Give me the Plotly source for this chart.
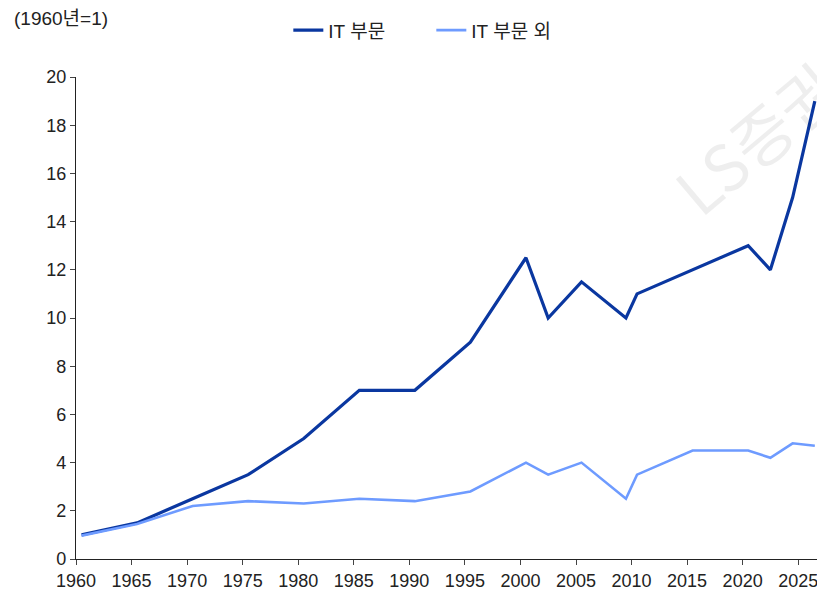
import plotly.graph_objects as go

years = [1960, 1965, 1970, 1975, 1980, 1985, 1990, 1995, 2000, 2002, 2005, 2009, 2010, 2015, 2020, 2022, 2024, 2026]
it_sector = [1.0, 1.5, 2.5, 3.5, 5.0, 7.0, 7.0, 9.0, 12.5, 10.0, 11.5, 10.0, 11.0, 12.0, 13.0, 12.0, 15.0, 19.0]
non_it_sector = [0.97, 1.45, 2.2, 2.4, 2.3, 2.5, 2.4, 2.8, 4.0, 3.5, 4.0, 2.5, 3.5, 4.5, 4.5, 4.2, 4.8, 4.7]
series_names = ["IT 부문", "IT 부문 외"]
y_ticks = [0, 2, 4, 6, 8, 10, 12, 14, 16, 18, 20]

# annual observations plotted at mid-year
dates = [f"{y}-07-01" for y in years]

NARROW = "Liberation Sans Narrow, Liberation Sans, Arial, Noto Sans CJK KR, sans-serif"
KFONT = "Liberation Sans, Arial, Noto Sans CJK KR, sans-serif"

fig = go.Figure()
fig.add_trace(go.Scatter(x=dates, y=it_sector, mode="lines", name=series_names[0],
                         line=dict(color="#0A37A0", width=3.2)))
fig.add_trace(go.Scatter(x=dates, y=non_it_sector, mode="lines", name=series_names[1],
                         line=dict(color="#6E9BFF", width=2.6)))

# page body has an 8px margin: figure is sized/offset so the plot lands where the reference has it
fig.update_layout(
    width=817, height=585,
    margin=dict(l=68, r=4, t=69, b=34, autoexpand=False),
    paper_bgcolor="white", plot_bgcolor="white",
    showlegend=True,
    legend=dict(orientation="h", x=0.285, xanchor="left", y=1.097, yanchor="middle",
                font=dict(family=KFONT, size=19, color="#222"),
                bgcolor="rgba(0,0,0,0)", entrywidth=98, itemwidth=30),
    xaxis=dict(type="date", range=["1960-01-01", "2027-01-20"],
               tick0="1960-01-01", dtick="M60", tickformat="%Y",
               showgrid=False, zeroline=False,
               showline=True, linecolor="#222", linewidth=1.2,
               ticks="outside", ticklen=5, tickcolor="#444",
               tickfont=dict(family=NARROW, size=18, color="#222")),
    yaxis=dict(range=[0, 20], tickvals=y_ticks,
               showgrid=False, zeroline=False,
               showline=True, linecolor="#222", linewidth=1.2,
               ticks="outside", ticklen=5, tickcolor="#444",
               tickfont=dict(family=NARROW, size=18, color="#222")),
    annotations=[
        dict(text="(1960년=1)", xref="paper", yref="paper", x=-0.0859, y=1.122,
             xanchor="left", yanchor="middle", showarrow=False,
             font=dict(family=NARROW, size=19, color="#222")),
        dict(text="LS증권", xref="paper", yref="paper", x=0.912, y=0.875,
             xanchor="center", yanchor="middle", showarrow=False, textangle=-40,
             font=dict(family="Noto Sans CJK KR, sans-serif", size=64, color="rgba(0,0,0,0.065)")),
    ],
)

fig.write_html("out.html")
